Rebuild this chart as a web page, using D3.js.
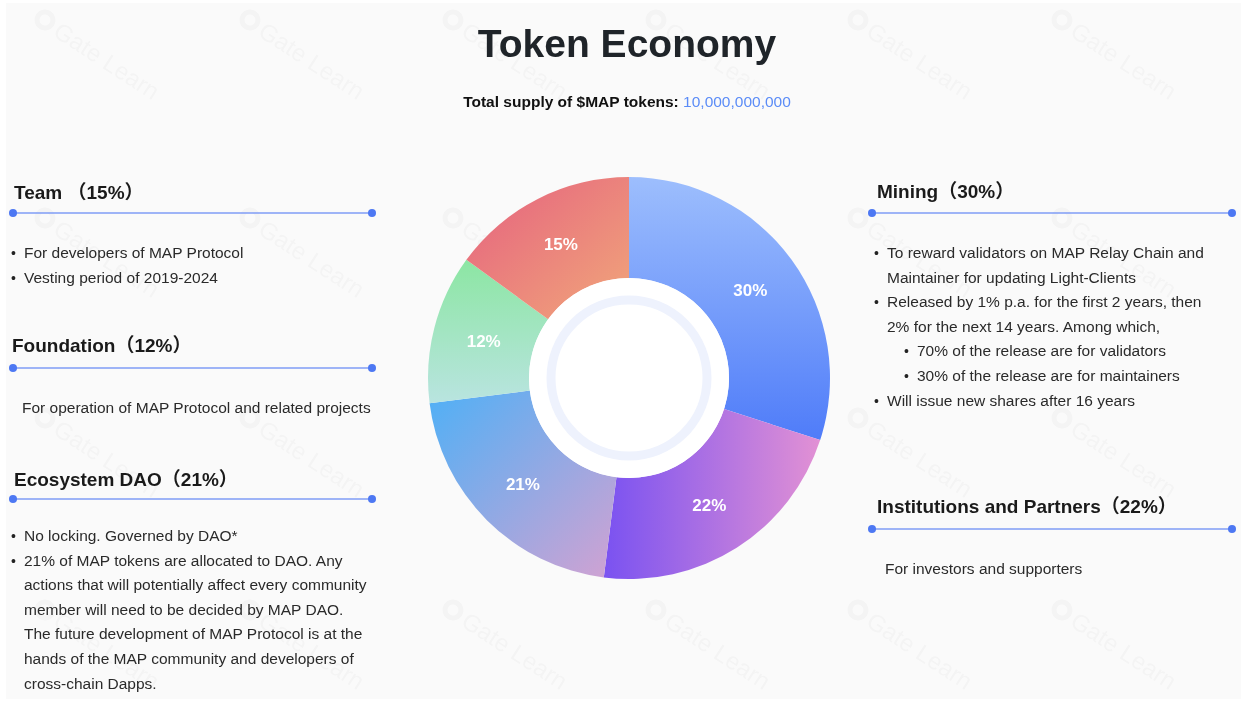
<!DOCTYPE html>
<html>
<head>
<meta charset="utf-8">
<script src="https://cdn.jsdelivr.net/npm/d3@7"></script>
<style>
  body { margin: 0; background: #fff; }
  text { font-family: "Liberation Sans", Arial, "Noto Sans CJK SC", sans-serif; }
</style>
</head>
<body>
<div id="chart"></div>
<script>
// slices, clockwise from 12 o'clock
const sliceNames = ["Mining", "Institutions and Partners", "Ecosystem DAO", "Foundation", "Team"];
const sliceValues = [30, 22, 21, 12, 15];
const sliceColors = [
  ["#9dbefd", "#4f7cf9", 0, 0, 0, 1],
  ["#7a52f1", "#e291d4", 0, 0.5, 1, 0.5],
  ["#4fb0f6", "#d2a2d2", 0, 0, 1, 1],
  ["#8ce6a3", "#b9e4e0", 0, 0, 0, 1],
  ["#e5607f", "#f1a77a", 0, 0, 1, 1]
];

const totalSupply = "10,000,000,000";

// side panels
const leftBlocks = [
  { title: "Team （15%）", y: 199, lineY: 213, items: [
    { b: 1, t: "For developers of MAP Protocol" },
    { b: 1, t: "Vesting period of 2019-2024" }
  ], itemY: 258 },
  { title: "Foundation（12%）", y: 352, lineY: 368, items: [
    { b: 0, t: "For operation of MAP Protocol and related projects" }
  ], itemY: 413 },
  { title: "Ecosystem DAO（21%）", y: 486, lineY: 499, items: [
    { b: 1, t: "No locking. Governed by DAO*" },
    { b: 1, t: "21% of MAP tokens are allocated to DAO. Any" },
    { b: 0, t: "actions that will potentially affect every community" },
    { b: 0, t: "member will need to be decided by MAP DAO." },
    { b: 0, t: "The future development of MAP Protocol is at the" },
    { b: 0, t: "hands of the MAP community and developers of" },
    { b: 0, t: "cross-chain Dapps." }
  ], itemY: 541 }
];
const rightBlocks = [
  { title: "Mining（30%）", y: 198, lineY: 213, items: [
    { b: 1, t: "To reward validators on MAP Relay Chain and" },
    { b: 0, t: "Maintainer for updating Light-Clients" },
    { b: 1, t: "Released by 1% p.a. for the first 2 years, then" },
    { b: 0, t: "2% for the next 14 years. Among which," },
    { b: 2, t: "70% of the release are for validators" },
    { b: 2, t: "30% of the release are for maintainers" },
    { b: 1, t: "Will issue new shares after 16 years" }
  ], itemY: 258 },
  { title: "Institutions and Partners（22%）", y: 513, lineY: 529, items: [
    { b: 0, t: "For investors and supporters" }
  ], itemY: 574 }
];

const W = 1247, H = 702;
const cx = 629, cy = 378, rOuter = 201, rInner = 100;

const svg = d3.select("#chart").append("svg")
  .attr("width", W).attr("height", H);

svg.append("rect").attr("x", 6).attr("y", 3).attr("width", W - 12).attr("height", H - 6)
  .attr("fill", "#fafafa");

// faint watermark
const wmX = [35, 240, 443, 646, 848, 1052];
const wmY = [10, 208, 408, 600];
const wm = svg.append("g").attr("opacity", 0.025);
wmX.forEach(x => wmY.forEach(y => {
  const g = wm.append("g").attr("transform", `translate(${x + 10},${y + 10}) rotate(33)`);
  g.append("circle").attr("cx", 0).attr("cy", 0).attr("r", 8)
    .attr("fill", "none").attr("stroke", "#000").attr("stroke-width", 5);
  g.append("text").attr("x", 14).attr("y", 9).attr("font-size", 24)
    .attr("fill", "#000").text("Gate Learn");
}));

// title
svg.append("text").attr("x", 627).attr("y", 57).attr("text-anchor", "middle")
  .attr("font-size", 39).attr("font-weight", "bold").attr("fill", "#1f2429")
  .text("Token Economy");

const sub = svg.append("text").attr("x", 627).attr("y", 107).attr("text-anchor", "middle")
  .attr("font-size", 15.5).attr("font-weight", "bold").attr("fill", "#111");
sub.append("tspan").text("Total supply of $MAP tokens: ");
sub.append("tspan").attr("fill", "#5b8cf7").attr("font-weight", 500).text(totalSupply);

// donut
const defs = svg.append("defs");
sliceColors.forEach((c, i) => {
  const lg = defs.append("linearGradient").attr("id", "grad" + i)
    .attr("x1", c[2]).attr("y1", c[3]).attr("x2", c[4]).attr("y2", c[5]);
  lg.append("stop").attr("offset", 0).attr("stop-color", c[0]);
  lg.append("stop").attr("offset", 1).attr("stop-color", c[1]);
});

const pie = d3.pie().value(d => d).sort(null);
const arc = d3.arc().innerRadius(rInner).outerRadius(rOuter);
const labelArc = d3.arc().innerRadius(150).outerRadius(150);

const donut = svg.append("g").attr("transform", `translate(${cx},${cy})`);
const arcs = pie(sliceValues);

donut.selectAll("path.slice").data(arcs).enter().append("path")
  .attr("class", "slice")
  .attr("d", arc)
  .attr("fill", (d, i) => `url(#grad${i})`);

donut.append("circle").attr("r", rInner).attr("fill", "#fff");
donut.append("circle").attr("r", 78).attr("fill", "none")
  .attr("stroke", "#eef2fd").attr("stroke-width", 9);

donut.selectAll("text.lbl").data(arcs).enter().append("text")
  .attr("class", "lbl")
  .attr("transform", d => `translate(${labelArc.centroid(d)})`)
  .attr("text-anchor", "middle").attr("dy", "0.35em")
  .attr("font-size", 17).attr("font-weight", "bold").attr("fill", "#fff")
  .text(d => d.data + "%");

// side panels
function drawBlock(b, x0, x1, tx, bx, subBx) {
  svg.append("text").attr("x", tx).attr("y", b.y)
    .attr("font-size", 19).attr("font-weight", "bold").attr("fill", "#1a1a1a")
    .text(b.title);
  svg.append("line").attr("x1", x0).attr("x2", x1).attr("y1", b.lineY).attr("y2", b.lineY)
    .attr("stroke", "#7f9cf6").attr("stroke-width", 1.3);
  [x0, x1].forEach(x => svg.append("circle").attr("cx", x).attr("cy", b.lineY)
    .attr("r", 4).attr("fill", "#4d78f3"));
  b.items.forEach((it, k) => {
    const y = b.itemY + k * 24.6;
    let x = it.b === 2 ? subBx : bx;
    if (it.b) {
      svg.append("text").attr("x", x).attr("y", y).attr("font-size", 14)
        .attr("fill", "#222").text("•");
    }
    const textX = it.b === 0 ? (b.items.some(d => d.b) ? bx + 13 : bx + 11) : x + 13;
    svg.append("text").attr("x", textX).attr("y", y).attr("font-size", 15.5)
      .attr("fill", "#2a2a2a").text(it.t);
  });
}

leftBlocks.forEach(b => drawBlock(b, 13, 372, b.title.startsWith("Foundation") ? 12 : 14, 11, 0));
rightBlocks.forEach(b => drawBlock(b, 872, 1232, 877, 874, 904));
</script>
</body>
</html>
